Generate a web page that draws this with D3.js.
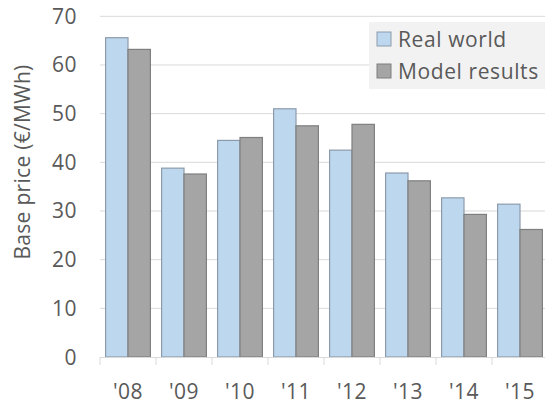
<!DOCTYPE html>
<html>
<head>
<meta charset="utf-8">
<script src="https://cdn.jsdelivr.net/npm/d3@7"></script>
<style>
  body { margin: 0; background: #fff; }
  svg { display: block; font-family: "Open Sans", "Noto Sans", sans-serif; }
</style>
</head>
<body>
<svg id="chart" width="545" height="406"></svg>
<script>
// data
const years = ["'08", "'09", "'10", "'11", "'12", "'13", "'14", "'15"];
const realWorld = [65.6, 38.8, 44.5, 51.0, 42.5, 37.8, 32.7, 31.4];
const modelResults = [63.2, 37.6, 45.1, 47.5, 47.8, 36.2, 29.3, 26.2];
const yTicks = [0, 10, 20, 30, 40, 50, 60, 70];
const seriesNames = ["Real world", "Model results"];

const fills = ["#bdd7ee", "#a5a5a5"];
const strokes = ["#8c9bab", "#7f7f7f"];

const svg = d3.select("#chart");
const plotL = 100, plotR = 548, plotT = 16.3, plotB = 357;

const x = d3.scaleBand().domain(years).range([plotL, plotR])
  .paddingInner(0.2).paddingOuter(0.1);
const x2 = d3.scaleBand().domain(seriesNames).range([0, x.bandwidth()]);
const y = d3.scaleLinear().domain([0, 70]).range([plotB, plotT]);

// gridlines
svg.append("g")
  .selectAll("line")
  .data(yTicks.filter(d => d > 0))
  .join("line")
  .attr("x1", plotL).attr("x2", plotR)
  .attr("y1", d => y(d)).attr("y2", d => y(d))
  .attr("stroke", "#d9d9d9").attr("stroke-width", 1);

// y labels
svg.append("g")
  .selectAll("text")
  .data(yTicks)
  .join("text")
  .attr("x", 77).attr("y", d => y(d) + 7.5)
  .attr("text-anchor", "end")
  .attr("font-size", 21)
  .attr("letter-spacing", 0.5)
  .attr("fill", "#595959")
  .text(d => d);

// bars
const groups = svg.append("g")
  .selectAll("g")
  .data(years.map((yr, i) => ({ yr, vals: [realWorld[i], modelResults[i]] })))
  .join("g")
  .attr("transform", d => `translate(${x(d.yr)},0)`);

groups.selectAll("rect")
  .data(d => d.vals.map((v, j) => ({ v, j })))
  .join("rect")
  .attr("x", d => x2(seriesNames[d.j]))
  .attr("y", d => y(d.v))
  .attr("width", x2.bandwidth())
  .attr("height", d => plotB - y(d.v))
  .attr("fill", d => fills[d.j])
  .attr("stroke", d => strokes[d.j])
  .attr("stroke-width", 1.2);

// x axis
const xAxis = svg.append("g");
xAxis.append("line")
  .attr("x1", plotL).attr("x2", plotR)
  .attr("y1", plotB + 0.5).attr("y2", plotB + 0.5)
  .attr("stroke", "#d9d9d9");
xAxis.selectAll("line.tick")
  .data(d3.range(years.length + 1).map(i => plotL + i * x.step()))
  .join("line")
  .attr("class", "tick")
  .attr("x1", d => d).attr("x2", d => d)
  .attr("y1", plotB).attr("y2", plotB + 8)
  .attr("stroke", "#d9d9d9");
xAxis.selectAll("text")
  .data(years)
  .join("text")
  .attr("x", d => x(d) + x.bandwidth() / 2)
  .attr("y", 399)
  .attr("text-anchor", "middle")
  .attr("font-size", 21)
  .attr("letter-spacing", 0.5)
  .attr("fill", "#595959")
  .text(d => d);

// y title
svg.append("text")
  .attr("transform", "translate(30,162) rotate(-90)")
  .attr("text-anchor", "middle")
  .attr("font-size", 21)
  .attr("letter-spacing", 0.3)
  .attr("fill", "#595959")
  .text("Base price (€/MWh)");

// legend
const legend = svg.append("g");
legend.append("rect")
  .attr("x", 369).attr("y", 22).attr("width", 180).attr("height", 67)
  .attr("fill", "#f2f2f2");
seriesNames.forEach((name, i) => {
  const ly = 39 + i * 32;
  legend.append("rect")
    .attr("x", 377).attr("y", ly - 7).attr("width", 14).attr("height", 14)
    .attr("fill", fills[i]).attr("stroke", strokes[i]);
  legend.append("text")
    .attr("x", 398).attr("y", ly + 7.5)
    .attr("font-size", 21)
    .attr("letter-spacing", 0.6)
    .attr("fill", "#595959")
    .text(name);
});
</script>
</body>
</html>
